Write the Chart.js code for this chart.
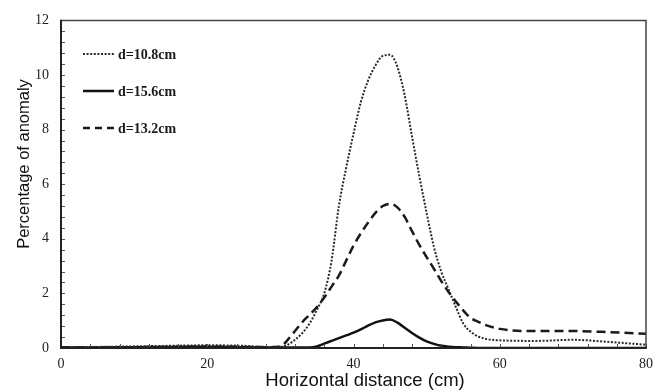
<!DOCTYPE html>
<html>
<head>
<meta charset="utf-8">
<script src="https://cdn.jsdelivr.net/npm/chart.js@4/dist/chart.umd.min.js"></script>
<style>
  html, body { margin: 0; padding: 0; background: #fff; }
  #wrap { width: 663px; height: 391px; position: relative; }
</style>
</head>
<body>
<div id="wrap"><canvas id="c" width="663" height="391"></canvas></div>
<script>
const xValues = [0,5,10,15,20,25,28,30,31,32,33,34,35,36,37,38,39,40,41,42,43,44,45,46,47,48,49,50,51,52,53,54,55,56,57,58,60,65,70,75,80];
const d108 = [0.02,0.04,0.06,0.08,0.1,0.08,0.04,0.05,0.12,0.3,0.55,0.9,1.4,2.0,3.2,5.2,6.6,7.85,9.0,9.8,10.35,10.7,10.74,10.3,9.25,7.75,6.3,4.95,3.7,2.8,2.15,1.5,0.9,0.6,0.43,0.34,0.28,0.26,0.3,0.22,0.12];
const d156 = [0.02,0.02,0.03,0.04,0.05,0.03,0.02,0.02,0.02,0.02,0.02,0.02,0.06,0.16,0.26,0.36,0.46,0.56,0.68,0.82,0.94,1.01,1.04,0.93,0.74,0.55,0.38,0.24,0.15,0.08,0.05,0.03,0.02,0.01,0,0,0,0,0,0,0];
const d132 = [0.02,0.02,0.03,0.04,0.05,0.04,0.03,0.05,0.3,0.62,0.95,1.22,1.5,1.85,2.25,2.65,3.2,3.75,4.2,4.6,4.95,5.2,5.28,5.15,4.8,4.28,3.78,3.33,2.9,2.45,2.05,1.7,1.38,1.1,0.97,0.85,0.7,0.62,0.62,0.58,0.52];
const seriesLabels = ['d=10.8cm','d=15.6cm','d=13.2cm'];
const xTitle = 'Horizontal distance (cm)';
const yTitle = 'Percentage of anomaly';
const xTickStep = 20, xMinorStep = 4, xMin = 0, xMax = 80;
const yTickStep = 2, yMinorStep = 0.4, yMin = 0, yMax = 12;

const toPts = arr => xValues.map((x, i) => ({x: x, y: arr[i]}));

const frameAndTicks = {
  id: 'frameAndTicks',
  afterDatasetsDraw(chart) {
    const {ctx, chartArea: a, scales: {x, y}} = chart;
    ctx.save();
    ctx.strokeStyle = '#555';
    ctx.lineWidth = 1;
    ctx.beginPath();
    for (let v = xMin; v <= xMax + 1e-6; v += xMinorStep) {
      const px = Math.round(x.getPixelForValue(v)) + 0.5;
      ctx.moveTo(px, a.bottom); ctx.lineTo(px, a.bottom - 4);
    }
    for (let v = yMin; v <= yMax + 1e-6; v += yMinorStep) {
      const py = Math.round(y.getPixelForValue(v)) + 0.5;
      ctx.moveTo(a.left, py); ctx.lineTo(a.left + 4, py);
    }
    ctx.stroke();
    ctx.strokeStyle = '#444';
    ctx.lineWidth = 1.5;
    ctx.beginPath();
    ctx.moveTo(a.left, a.top); ctx.lineTo(a.right, a.top); ctx.lineTo(a.right, a.bottom);
    ctx.stroke();
    ctx.strokeStyle = '#222';
    ctx.lineWidth = 2;
    ctx.beginPath();
    ctx.moveTo(a.left, a.top - 0.75); ctx.lineTo(a.left, a.bottom); ctx.lineTo(a.right + 0.75, a.bottom);
    ctx.stroke();
    // legend
    const rows = [54, 91, 128];
    const legendDash = [[2, 1.6], [], [7, 5]];
    ctx.font = 'bold 14px "Liberation Serif"';
    ctx.textBaseline = 'middle';
    ctx.textAlign = 'left';
    ctx.fillStyle = '#1a1a1a';
    chart.data.datasets.forEach((ds, i) => {
      const yy = rows[i];
      ctx.strokeStyle = ds.borderColor;
      ctx.lineWidth = ds.borderWidth;
      ctx.setLineDash(legendDash[i]);
      ctx.beginPath();
      ctx.moveTo(83, yy); ctx.lineTo(i === 2 ? 118 : 114, yy);
      ctx.stroke();
      ctx.setLineDash([]);
      ctx.fillText(ds.label, 118, yy + 1);
    });
    // axis titles
    ctx.fillStyle = '#111';
    ctx.textAlign = 'center';
    ctx.textBaseline = 'middle';
    ctx.font = '18.5px "Liberation Sans"';
    ctx.fillText(xTitle, 365, 381);
    ctx.save();
    ctx.translate(24, 164);
    ctx.rotate(-Math.PI / 2);
    ctx.font = '16.5px "Liberation Sans"';
    ctx.fillText(yTitle, 0, 0);
    ctx.restore();
    ctx.restore();
  }
};

new Chart(document.getElementById('c'), {
  type: 'line',
  data: {
    datasets: [
      { label: seriesLabels[0], data: toPts(d108), borderColor: '#2a2a2a', borderWidth: 2, borderDash: [2, 1.6], cubicInterpolationMode: 'monotone', pointRadius: 0, fill: false },
      { label: seriesLabels[1], data: toPts(d156), borderColor: '#111', borderWidth: 2.5, cubicInterpolationMode: 'monotone', pointRadius: 0, fill: false },
      { label: seriesLabels[2], data: toPts(d132), borderColor: '#1a1a1a', borderWidth: 2.5, borderDash: [9, 5], cubicInterpolationMode: 'monotone', pointRadius: 0, fill: false }
    ]
  },
  options: {
    responsive: false,
    animation: false,
    layout: { padding: { top: 17, right: 17, left: 0, bottom: 0 } },
    plugins: { legend: { display: false }, tooltip: { enabled: false } },
    scales: {
      x: {
        type: 'linear', min: xMin, max: xMax,
        afterFit: s => { s.height = 43; },
        grid: { display: false, drawTicks: false },
        border: { display: false },
        ticks: { stepSize: xTickStep, padding: 8, color: '#222', maxRotation: 0, font: { family: 'Liberation Serif', size: 14 } },
        title: { display: false }
      },
      y: {
        type: 'linear', min: yMin, max: yMax,
        afterFit: s => { s.width = 61; },
        grid: { display: false, drawTicks: false },
        border: { display: false },
        ticks: { stepSize: yTickStep, padding: 12, color: '#222', font: { family: 'Liberation Serif', size: 14 } },
        title: { display: false }
      }
    }
  },
  plugins: [frameAndTicks]
});
</script>
</body>
</html>
